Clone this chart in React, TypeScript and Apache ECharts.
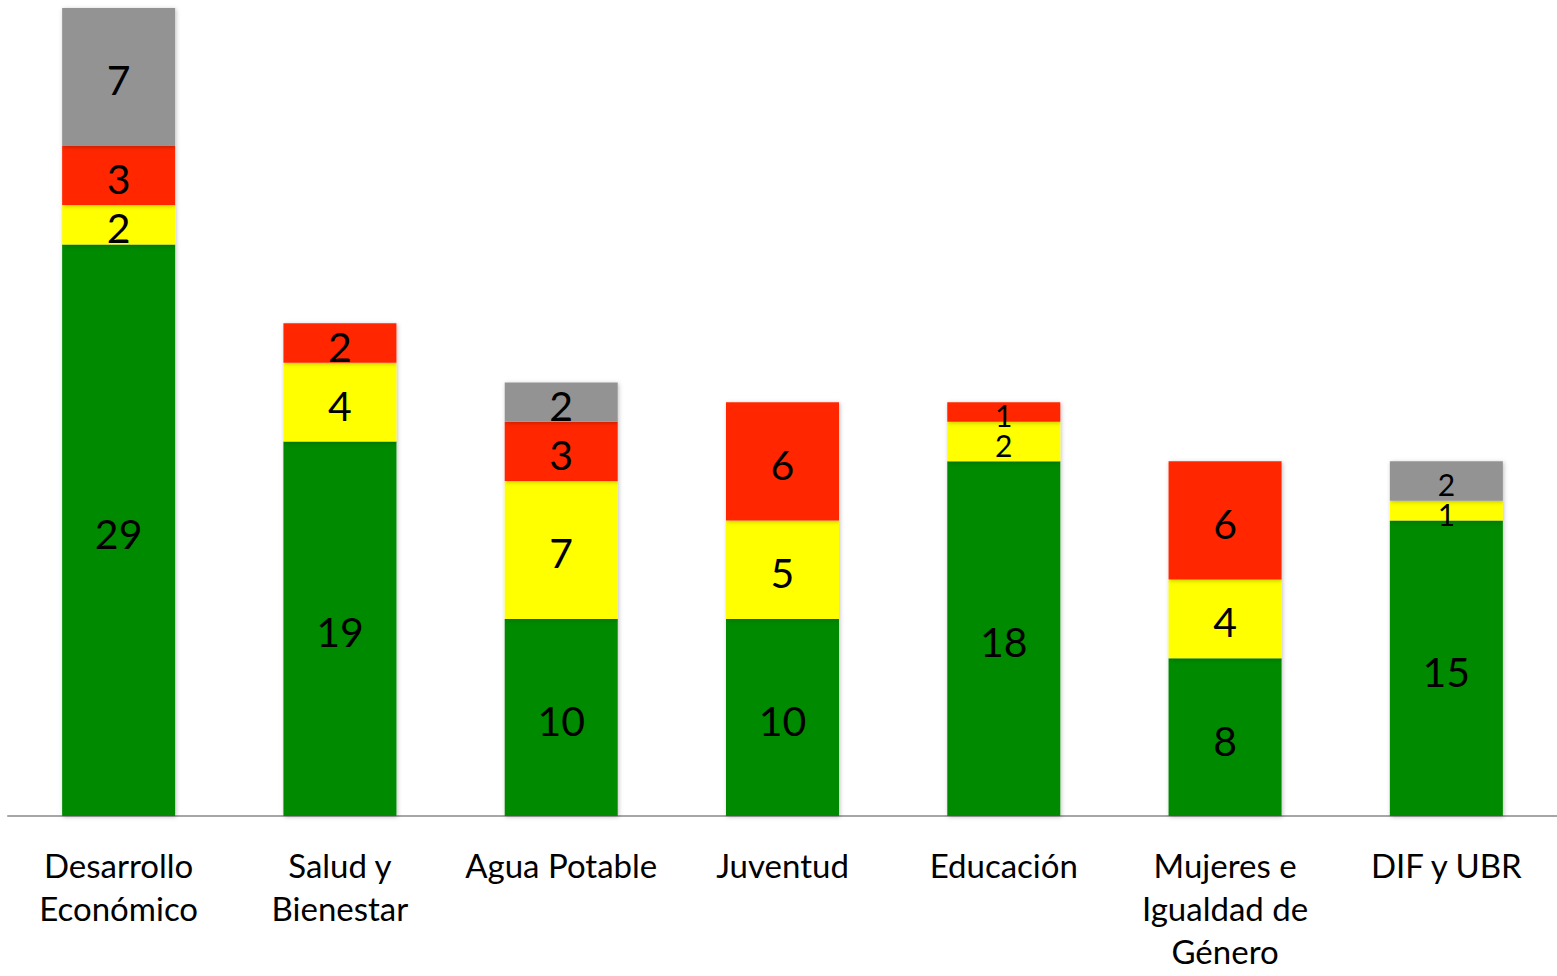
import React, { useEffect, useRef } from "react";
import * as echarts from "echarts";

const categories = [
  "Desarrollo\nEconómico",
  "Salud y\nBienestar",
  "Agua Potable",
  "Juventud",
  "Educación",
  "Mujeres e\nIgualdad de\nGénero",
  "DIF y UBR",
];
const greenValues = [29, 19, 10, 10, 18, 8, 15];
const yellowValues = [2, 4, 7, 5, 2, 4, 1];
const redValues = [3, 2, 3, 6, 1, 6, 0];
const grayValues = [7, 0, 2, 0, 0, 0, 2];
// categories whose thin-segment labels are drawn smaller in the reference
const smallLabelCats = [4, 6];

const FONT = "Lato, 'Open Sans', sans-serif";

function makeSeries(name: string, values: number[], color: string, allowSmall: boolean) {
  return {
    name,
    type: "bar",
    stack: "total",
    barWidth: 113,
    itemStyle: {
      color,
      shadowColor: "rgba(0,0,0,0.25)",
      shadowBlur: 4,
      shadowOffsetX: 1,
      shadowOffsetY: 1,
    },
    data: values.map((v, i) => ({
      value: v,
      label: {
        show: v > 0,
        fontSize: allowSmall && smallLabelCats.includes(i) ? 30 : 41,
      },
    })),
    label: {
      show: true,
      position: "inside",
      offset: [0, 3],
      color: "#000",
      fontFamily: FONT,
    },
  };
}

export default function App() {
  const ref = useRef<HTMLDivElement>(null);
  useEffect(() => {
    const chart = echarts.init(ref.current!, null, { renderer: "svg" });
    chart.setOption({
      animation: false,
      grid: { left: 8, right: 0, top: 8, bottom: 160 },
      xAxis: {
        type: "category",
        data: categories,
        axisLine: { lineStyle: { color: "#a6a6a6", width: 2 } },
        axisTick: { show: false },
        axisLabel: {
          color: "#000",
          fontFamily: FONT,
          fontSize: 33,
          lineHeight: 43,
          margin: 27,
          interval: 0,
        },
      },
      yAxis: {
        type: "value",
        min: 0,
        max: 41,
        show: false,
        splitLine: { show: false },
      },
      series: [
        makeSeries("Verde", greenValues, "#008a00", false),
        makeSeries("Amarillo", yellowValues, "#ffff00", true),
        makeSeries("Rojo", redValues, "#ff2600", true),
        makeSeries("Gris", grayValues, "#939393", true),
      ],
    });
    return () => chart.dispose();
  }, []);
  return (
    <div
      ref={ref}
      style={{ position: "absolute", left: 0, top: 0, width: 1557, height: 976, background: "#fff" }}
    />
  );
}
